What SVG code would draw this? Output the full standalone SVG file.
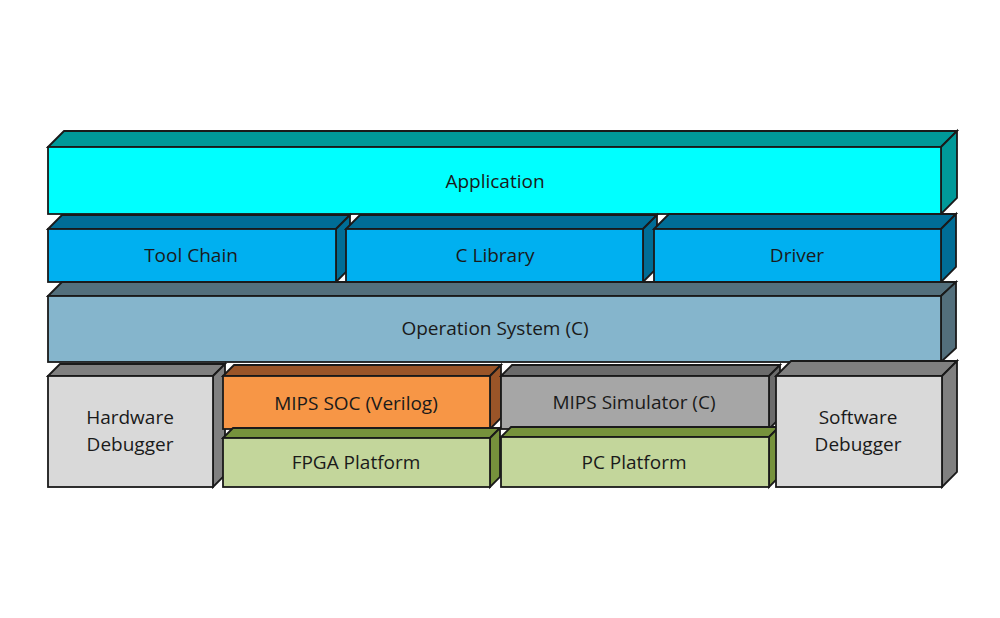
<svg xmlns="http://www.w3.org/2000/svg" width="1000" height="618" viewBox="0 0 1000 618">
<style>
polygon,rect{stroke:#1a1a1a;stroke-width:1.8;stroke-linejoin:miter}
text{font-family:"Open Sans","Liberation Sans",sans-serif;font-size:19px;fill:#1a1a1a;text-anchor:middle;dominant-baseline:central}
.app-f{fill:#00FFFF}.app-d{fill:#009999}
.blu-f{fill:#00B0F0}.blu-d{fill:#006D96}
.os-f{fill:#85B5CC}.os-d{fill:#536F7C}
.gry-f{fill:#D9D9D9}.gry-d{fill:#808080}
.org-f{fill:#F79646}.org-d{fill:#9A5528}
.sim-f{fill:#A6A6A6}.sim-d{fill:#6B6B6B}
.grn-f{fill:#C3D69B}.grn-d{fill:#76923C}
</style>
<rect width="1000" height="618" fill="#fff" style="stroke:none"/>
<g id="application">
<polygon class="app-d" points="48,147 64,131 957,131 941,147"/>
<polygon class="app-d" points="941,147 957,131 957,198 941,214"/>
<rect class="app-f" x="48" y="147" width="893" height="67"/>
<text x="495" y="181">Application</text>
</g>
<g id="tool-chain">
<polygon class="blu-d" points="48,229 62,215 350,215 336,229"/>
<polygon class="blu-d" points="336,229 350,215 350,268 336,282"/>
<rect class="blu-f" x="48" y="229" width="288" height="53"/>
<text x="191" y="255">Tool Chain</text>
</g>
<g id="c-library">
<polygon class="blu-d" points="346,229 360,215 657,215 643,229"/>
<polygon class="blu-d" points="643,229 657,215 657,268 643,282"/>
<rect class="blu-f" x="346" y="229" width="297" height="53"/>
<text x="495" y="255">C Library</text>
</g>
<g id="driver">
<polygon class="blu-d" points="654,229 669,214 956,214 941,229"/>
<polygon class="blu-d" points="941,229 956,214 956,267 941,282"/>
<rect class="blu-f" x="654" y="229" width="287" height="53"/>
<text x="797" y="255">Driver</text>
</g>
<g id="operation-system">
<polygon class="os-d" points="48,296 62,282 956,282 941,296"/>
<polygon class="os-d" points="941,296 956,282 956,348 941,362"/>
<rect class="os-f" x="48" y="296" width="893" height="66"/>
<text x="495" y="328">Operation System (C)</text>
</g>
<g id="hardware-debugger">
<polygon class="gry-d" points="48,376 60,364 225,364 213,376"/>
<polygon class="gry-d" points="213,376 225,364 225,475 213,487"/>
<rect class="gry-f" x="48" y="376" width="165" height="111"/>
<text x="130" y="417">Hardware</text>
<text x="130" y="444">Debugger</text>
</g>
<g id="mips-soc">
<polygon class="org-d" points="223,376 234,365 501,365 490,376"/>
<polygon class="org-d" points="490,376 501,365 501,418 490,429"/>
<rect class="org-f" x="223" y="376" width="267" height="53"/>
<text x="356" y="403">MIPS SOC (Verilog)</text>
</g>
<g id="fpga-platform">
<polygon class="grn-d" points="223,438 233,428 500,428 490,438"/>
<polygon class="grn-d" points="490,438 500,428 500,477 490,487"/>
<rect class="grn-f" x="223" y="438" width="267" height="49"/>
<text x="356" y="462">FPGA Platform</text>
</g>
<g id="mips-simulator">
<polygon class="sim-d" points="501,376 512,365 780,365 769,376"/>
<polygon class="sim-d" points="769,376 780,365 780,418 769,429"/>
<rect class="sim-f" x="501" y="376" width="268" height="53"/>
<text x="634" y="402">MIPS Simulator (C)</text>
</g>
<g id="pc-platform">
<polygon class="grn-d" points="501,437 511,427 779,427 769,437"/>
<polygon class="grn-d" points="769,437 779,427 779,477 769,487"/>
<rect class="grn-f" x="501" y="437" width="268" height="50"/>
<text x="634" y="462">PC Platform</text>
</g>
<g id="software-debugger">
<polygon class="gry-d" points="776,376 791,361 957,361 942,376"/>
<polygon class="gry-d" points="942,376 957,361 957,472 942,487"/>
<rect class="gry-f" x="776" y="376" width="166" height="111"/>
<text x="858" y="417">Software</text>
<text x="858" y="444">Debugger</text>
</g>
<g id="connectors"/>
</svg>
